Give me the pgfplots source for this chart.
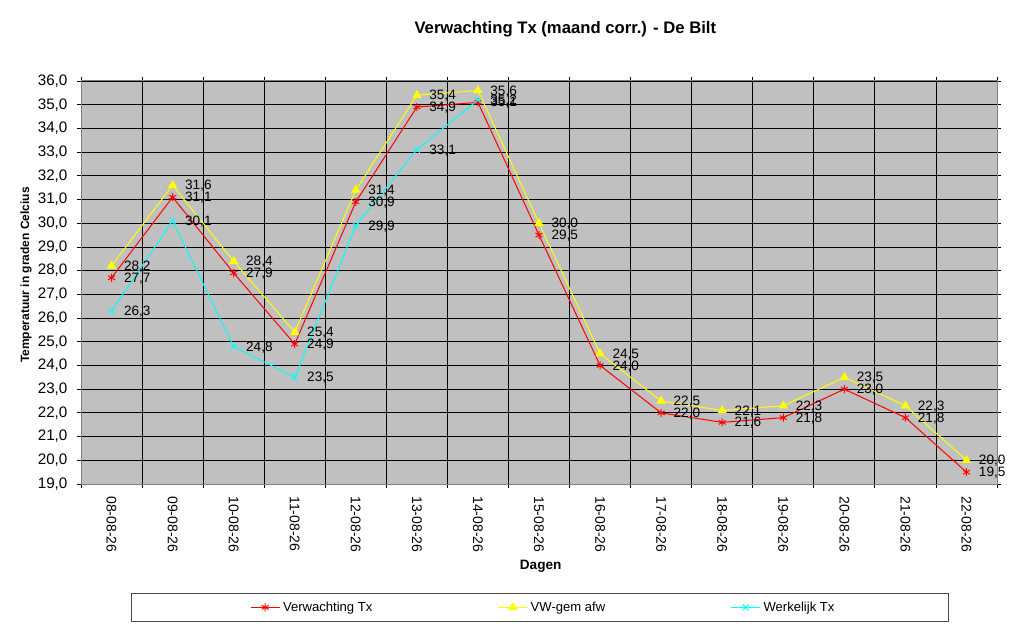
\documentclass[border=0pt]{standalone}
\usepackage{pgfplots}
\pgfplotsset{compat=1.18}
\usepackage{fontspec}
\setmainfont{Liberation Sans}
\definecolor{plotbg}{RGB}{192,192,192}
\definecolor{framec}{RGB}{128,128,128}
\definecolor{cred}{RGB}{255,0,0}
\definecolor{cyel}{RGB}{255,255,0}
\definecolor{ccya}{RGB}{0,255,255}
\pgfkeys{/pgf/number format/assume math mode=true}

\pgfplotstableread{
x y
0 27.7
1 31.1
2 27.9
3 24.9
4 30.9
5 34.9
6 35.1
7 29.5
8 24.0
9 22.0
10 21.6
11 21.8
12 23.0
13 21.8
14 19.5
}\verw
\pgfplotstableread{
x y
0 28.2
1 31.6
2 28.4
3 25.4
4 31.4
5 35.4
6 35.6
7 30.0
8 24.5
9 22.5
10 22.1
11 22.3
12 23.5
13 22.3
14 20.0
}\vwgem
\pgfplotstableread{
x y
0 26.3
1 30.1
2 24.8
3 23.5
4 29.9
5 33.1
6 35.2
}\werk

\begin{document}
\begin{tikzpicture}[x=1pt,y=1pt]
\useasboundingbox (0,0) rectangle (768,471);
\begin{axis}[
  at={(60.75pt,108pt)}, anchor=south west,
  width=687pt, height=302.25pt, scale only axis,
  xmin=-0.5, xmax=14.5, ymin=19, ymax=36,
  /pgf/number format/assume math mode=true,
  axis background/.style={fill=plotbg},
  axis line style={draw=framec, line width=0.75pt},
  tick align=outside,
  major tick length=3pt,
  tick style={draw=black, line width=0.6pt},
  grid=major,
  major grid style={draw=black, line width=0.6pt},
  ytick={19,20,...,36},
  yticklabel style={inner xsep=7pt, font=\fontsize{11.4}{13}\selectfont, /pgf/number format/.cd, fixed, fixed zerofill, precision=1, use comma},
  xtick={-0.5,0.5,1.5,2.5,3.5,4.5,5.5,6.5,7.5,8.5,9.5,10.5,11.5,12.5,13.5,14.5},
  xticklabels={},
  extra x ticks={0,1,2,3,4,5,6,7,8,9,10,11,12,13,14},
  extra x tick labels={08-08-26,09-08-26,10-08-26,11-08-26,12-08-26,13-08-26,14-08-26,15-08-26,16-08-26,17-08-26,18-08-26,19-08-26,20-08-26,21-08-26,22-08-26},
  extra x tick style={major tick length=0pt, grid=none,
    xticklabel style={rotate=-90, anchor=west, inner xsep=9pt, font=\fontsize{10.5}{12}\selectfont}},
  point meta=y,
  nodes near coords={\pgfmathprintnumber[fixed,fixed zerofill,precision=1,use comma]{\pgfplotspointmeta}},
  every node near coord/.append style={anchor=west, inner sep=0pt, xshift=9pt, yshift=-0.5pt, text=black, font=\fontsize{10.2}{12}\selectfont},
  legend columns=3,
  legend style={at={(0.505,-0.306)}, anchor=center, draw=none, fill=none,
    font=\fontsize{9.8}{11}\selectfont,
    /tikz/every even column/.append style={column sep=92pt}},
  legend image code/.code={\draw[mark repeat=2,mark phase=2,#1] plot coordinates {(0pt,0pt) (11pt,0pt) (22pt,0pt)};},
]
\addplot[cred, line width=0.75pt, mark=asterisk, mark size=3pt, mark options={solid, line width=0.75pt}] table[x=x,y=y] {\verw};
\addlegendentry{Verwachting Tx}
\addplot[cyel, line width=0.75pt, mark=triangle*, mark size=3.3pt, mark options={solid, fill=cyel}] table[x=x,y=y] {\vwgem};
\addlegendentry{VW-gem afw}
\addplot[ccya, line width=0.75pt, mark=x, mark size=3pt, mark options={solid, line width=0.75pt}] table[x=x,y=y] {\werk};
\addlegendentry{Werkelijk Tx}
\end{axis}
\node[font=\bfseries\fontsize{12.5}{15}\selectfont] at (424,449.25) {Verwachting Tx (maand corr.) - De Bilt};
\node[font=\bfseries\fontsize{9}{11}\selectfont, rotate=90] at (19.5,264.75) {Temperatuur in graden Celcius};
\node[font=\bfseries\fontsize{10.2}{12}\selectfont] at (405.5,46) {Dagen};
\draw[black!70, line width=0.75pt] (98.25,5.25) rectangle (711,25.5);
\end{tikzpicture}
\end{document}
